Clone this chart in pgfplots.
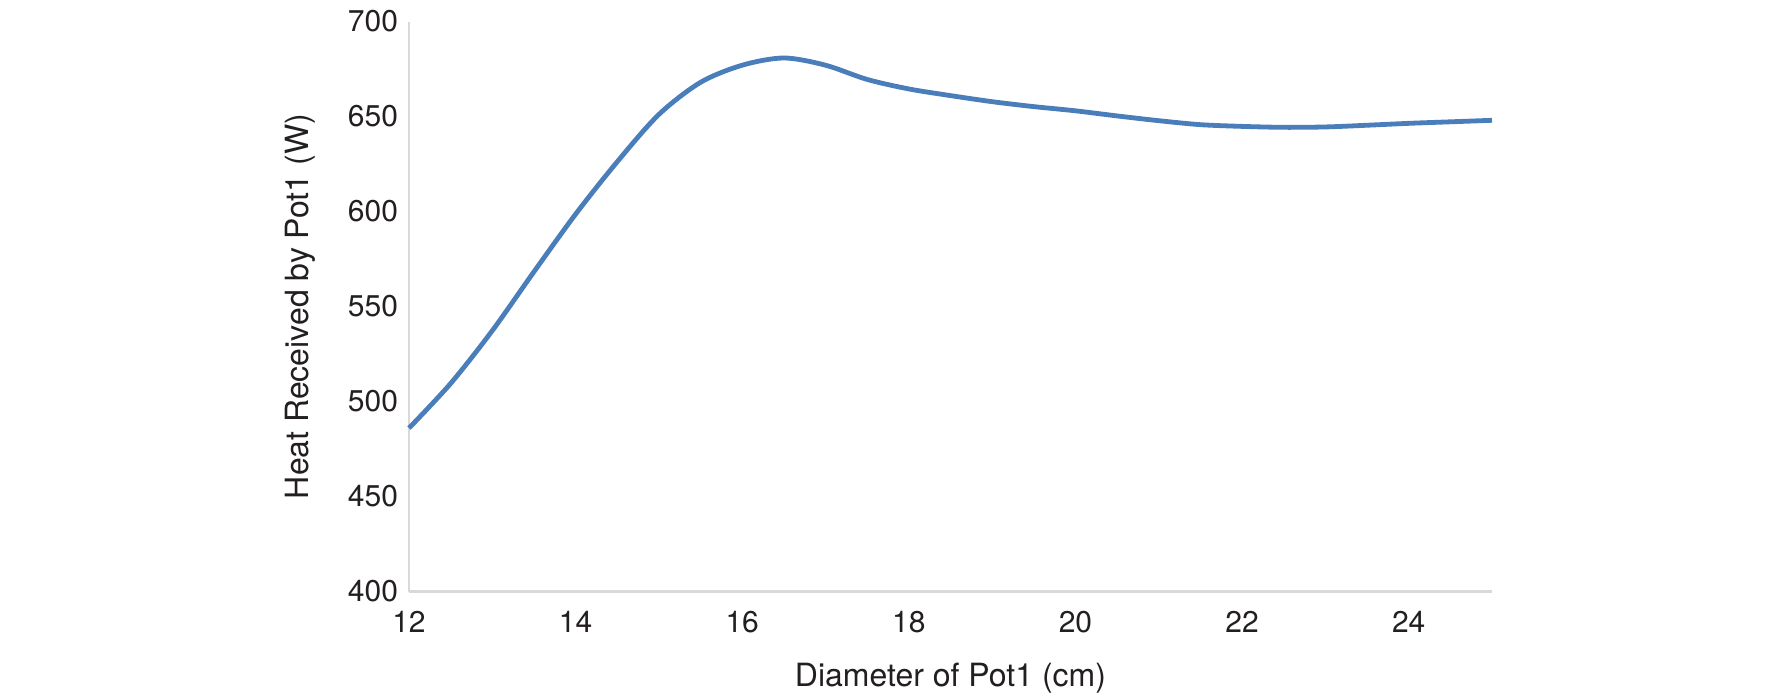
\documentclass[border=0pt]{standalone}
\usepackage{pgfplots}
\pgfplotsset{compat=1.18}
\usepackage{fontspec}
\setmainfont{TeX Gyre Heros}
\definecolor{lineblue}{HTML}{4A7EBB}
\definecolor{axgray}{HTML}{D9D9D9}
\definecolor{txt}{HTML}{231F20}
\begin{document}
\begin{tikzpicture}
\path[use as bounding box] (-204.5pt,-53pt) rectangle (681.5pt,295.75pt);
\begin{axis}[
  at={(0,0)}, anchor=south west,
  scale only axis, width=541.5pt, height=285pt,
  xmin=12, xmax=25, ymin=400, ymax=700,
  xtick={12,14,...,24}, ytick={400,450,...,700},
  axis x line*=bottom, axis y line*=left,
  axis line style={axgray, line width=1.2pt, -},
  tick style={draw=none},
  /pgf/number format/assume math mode=true,
  tick label style={font=\fontsize{15}{17}\selectfont, text=txt},
  label style={font=\fontsize{16}{19}\selectfont, text=txt},
  xticklabel style={yshift=-6.5pt},
  yticklabel style={xshift=-2pt},
  xlabel={Diameter of Pot1 (cm)},
  ylabel={Heat Received by Pot1 (W)},
  xlabel style={yshift=-8pt},
  ylabel style={yshift=9.5pt},
  clip=false,
]
\addplot[lineblue, line width=2.4pt, smooth, tension=0.5] coordinates {
(12,486) (12.5,509.5) (13,537.3) (13.5,568.3) (14,598.6) (14.5,626.2) (15,651.1)
(15.5,668) (16,677) (16.5,680.8) (17,677) (17.5,669.5) (18,664.5) (18.5,661)
(19,657.8) (19.5,655.2) (20,653) (20.5,650.3) (21,647.8) (21.5,645.7) (22,644.8)
(22.5,644.3) (23,644.5) (23.5,645.4) (24,646.4) (24.5,647.2) (25,648)
};
\end{axis}
\end{tikzpicture}
\end{document}
